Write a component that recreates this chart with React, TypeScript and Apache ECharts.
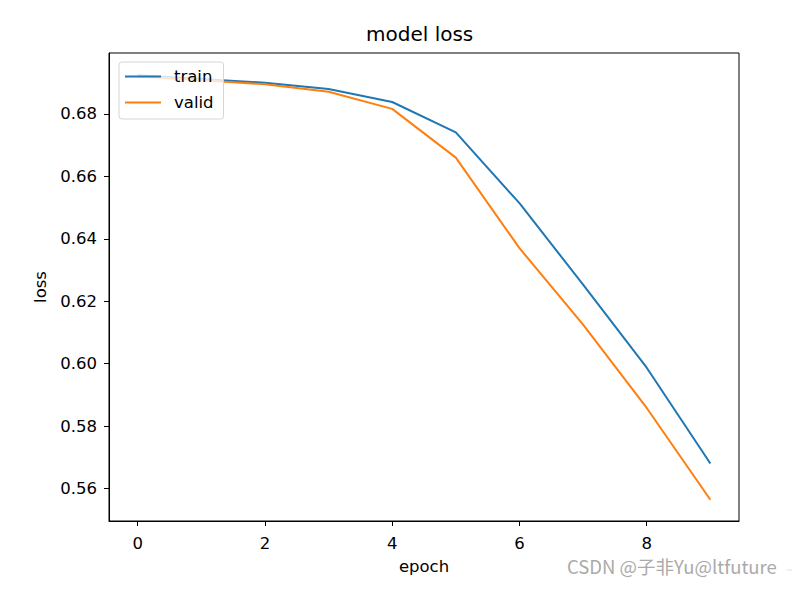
import React, { useEffect, useRef } from "react";
import * as echarts from "echarts";

const epochs = [0, 1, 2, 3, 4, 5, 6, 7, 8, 9];
const trainLoss = [0.6924, 0.6912, 0.6900, 0.6880, 0.6838, 0.6741, 0.6514, 0.6253, 0.5987, 0.5680];
const validLoss = [0.6920, 0.6908, 0.6895, 0.6871, 0.6816, 0.6660, 0.6370, 0.6125, 0.5858, 0.5564];
const xTicks = [0, 2, 4, 6, 8];
const yTicks = [0.56, 0.58, 0.6, 0.62, 0.64, 0.66, 0.68];

const FONT = "DejaVu Sans";

export default function App() {
  const ref = useRef<HTMLDivElement>(null);
  useEffect(() => {
    if (!ref.current) return;
    const chart = echarts.init(ref.current, undefined, { renderer: "svg" });
    chart.setOption({
      animation: false,
      backgroundColor: "#ffffff",
      title: {
        text: "model loss",
        left: 366,
        top: 24,
        padding: 0,
        textStyle: { fontFamily: FONT, fontSize: 20, fontWeight: "normal", color: "#000" },
      },
      legend: {
        left: 119,
        top: 62,
        orient: "vertical",
        data: ["train", "valid"],
        icon: "rect",
        itemWidth: 36,
        itemHeight: 2,
        itemGap: 9,
        padding: [6, 10, 8, 6],
        backgroundColor: "rgba(255,255,255,0.8)",
        borderColor: "#d6d6d6",
        borderWidth: 1,
        borderRadius: 3,
        textStyle: { fontFamily: FONT, fontSize: 16.5, color: "#000", lineHeight: 17, padding: [0, 0, 0, 8] },
      },
      grid: {
        left: 109,
        top: 53,
        right: 53,
        bottom: 68,
        show: true,
        borderColor: "#000",
        borderWidth: 1,
        backgroundColor: "transparent",
      },
      xAxis: {
        type: "value",
        min: -0.45,
        max: 9.45,
        name: "epoch",
        nameLocation: "middle",
        nameGap: 37,
        nameTextStyle: { fontFamily: FONT, fontSize: 16.5, color: "#000" },
        axisLine: { show: true, onZero: false, lineStyle: { color: "#000", width: 1 } },
        axisTick: { show: true, length: 5, customValues: xTicks, lineStyle: { color: "#000" } },
        axisLabel: {
          customValues: xTicks,
          margin: 14,
          fontFamily: FONT,
          fontSize: 16.5,
          color: "#000",
        },
        splitLine: { show: false },
      },
      yAxis: {
        type: "value",
        min: 0.5496,
        max: 0.6995,
        name: "loss",
        nameLocation: "middle",
        nameGap: 60,
        nameRotate: 90,
        nameTextStyle: { fontFamily: FONT, fontSize: 16.5, color: "#000" },
        axisLine: { show: true, onZero: false, lineStyle: { color: "#000", width: 1 } },
        axisTick: { show: true, length: 5, customValues: yTicks, lineStyle: { color: "#000" } },
        axisLabel: {
          customValues: yTicks,
          margin: 12,
          fontFamily: FONT,
          fontSize: 16.5,
          color: "#000",
          formatter: (v: number) => v.toFixed(2),
        },
        splitLine: { show: false },
      },
      series: [
        {
          name: "train",
          type: "line",
          data: epochs.map((e, i) => [e, trainLoss[i]]),
          showSymbol: false,
          symbol: "none",
          lineStyle: { color: "#1f77b4", width: 2 },
          itemStyle: { color: "#1f77b4" },
          z: 2,
        },
        {
          name: "valid",
          type: "line",
          data: epochs.map((e, i) => [e, validLoss[i]]),
          showSymbol: false,
          symbol: "none",
          lineStyle: { color: "#ff7f0e", width: 2 },
          itemStyle: { color: "#ff7f0e" },
          z: 3,
        },
      ],
      graphic: [
        {
          type: "text",
          left: 567,
          top: 557,
          style: {
            text: "CSDN @子非Yu@ltfuture",
            fontFamily: "Noto Sans CJK SC",
            fontSize: 18.5,
            fill: "#aaaaaa",
          },
        },
        {
          type: "line",
          shape: { x1: 787, y1: 570, x2: 792, y2: 570 },
          style: { stroke: "#dddddd", lineWidth: 1 },
        },
      ],
    });
    return () => chart.dispose();
  }, []);
  return <div ref={ref} style={{ width: 792, height: 589, position: "absolute", left: 0, top: 0 }} />;
}
